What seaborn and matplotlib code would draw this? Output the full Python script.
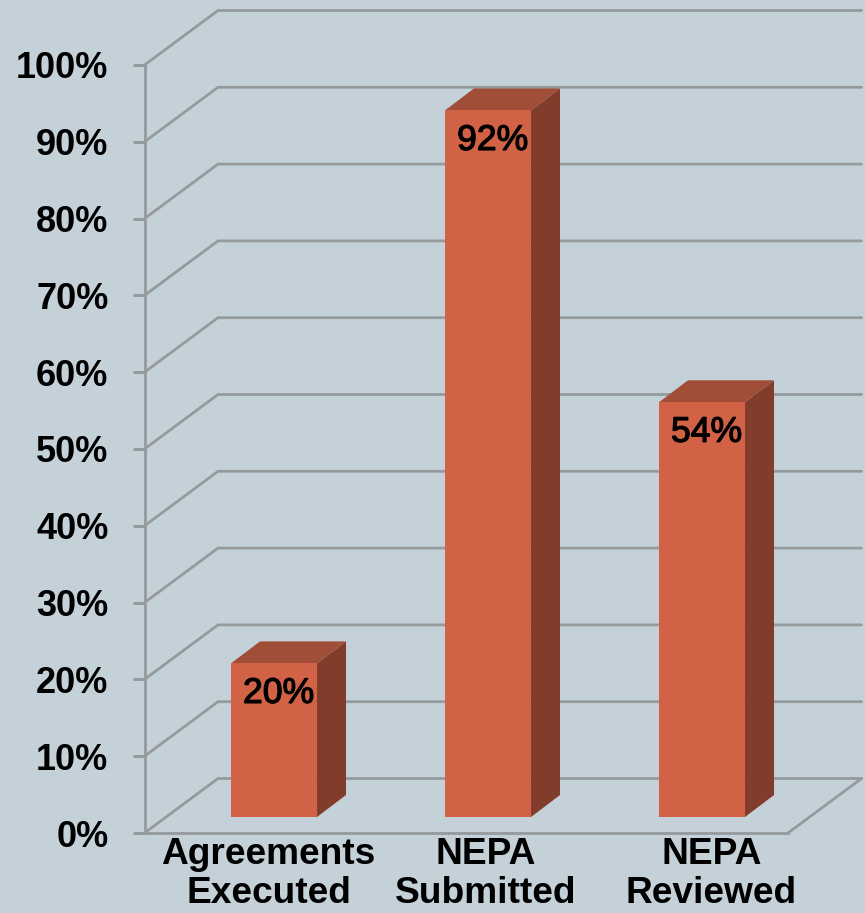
import matplotlib
matplotlib.use("Agg")
import matplotlib.pyplot as plt
import matplotlib.patheffects as pe
from matplotlib.patches import Polygon
import pandas as pd
import seaborn as sns

# ---- data ----
categories = ["Agreements\nExecuted", "NEPA\nSubmitted", "NEPA\nReviewed"]
values = [20, 92, 54]
y_ticks = [0, 10, 20, 30, 40, 50, 60, 70, 80, 90, 100]
y_tick_labels = [f"{v}%" for v in y_ticks]

# ---- style ----
BG = "#C5D1D8"
FRONT = "#D26246"
TOP = "#A04E37"
SIDE = "#823C2C"
GRID = "#959A9D"
W, H = 865, 913

sns.set_theme(style="white")
plt.rcParams["font.family"] = ["Liberation Sans", "DejaVu Sans"]

fig = plt.figure(figsize=(W / 100, H / 100), dpi=100, facecolor=BG)


def px_axes(left, right, top, bottom):
    return fig.add_axes([left / W, 1 - bottom / H, (right - left) / W, (bottom - top) / H])


# ---- wall axes: percent scale and floor outline ----
ax = px_axes(144.5, 788, 65, 833)
ax.set_facecolor("none")
ax.set_xlim(-0.5, 2.5)
ax.set_ylim(0, 100)
for s in ("top", "right"):
    ax.spines[s].set_visible(False)
for s in ("left", "bottom"):
    ax.spines[s].set_color(GRID)
    ax.spines[s].set_linewidth(2.0)
ax.set_yticks(y_ticks)
ax.set_yticklabels(y_tick_labels, fontsize=26, fontweight="bold", color="black")
ax.tick_params(axis="y", length=8.5, width=2.2, color=GRID, pad=17.5, left=True)

# category labels: centred on the printed positions
label_px = [268.5, 485.5, 711.5]
span = 788 - 144.5
ax.set_xticks([(p - 144.5) / span * 3 - 0.5 for p in label_px])
ax.set_xticklabels(categories, fontsize=26.7, fontweight="bold", color="black", linespacing=1.16)
ax.tick_params(axis="x", length=0, pad=3.0)

# receding gridlines, built on the y scale of the axes
DEPTH_X, DEPTH_Y = 73.5, 54.5
xform = ax.get_yaxis_transform()
fig.canvas.draw()
for v in y_ticks:
    p0 = xform.transform((0, v))
    p1 = p0 + (DEPTH_X, DEPTH_Y)
    p2 = xform.transform((1, v)) + (DEPTH_X, DEPTH_Y)
    ax.plot([p0[0], p1[0], p2[0]], [p0[1], p1[1], p2[1]], transform=None,
            color=GRID, lw=2.0, solid_joinstyle="miter", clip_on=False)
# right edge of the floor
p_end = xform.transform((1, 0))
ax.plot([p_end[0], p_end[0] + DEPTH_X], [p_end[1], p_end[1] + DEPTH_Y], transform=None,
        color=GRID, lw=2.0, clip_on=False)

# ---- bar axes: the bars stand in a plane midway into the floor ----
bx = px_axes(167, 809, 49, 817)
bx.set_facecolor("none")
df = pd.DataFrame({"category": categories, "value": values})
sns.barplot(data=df, x="category", y="value", color=FRONT, saturation=1, width=0.402,
            ax=bx, linewidth=0)
bx.set_xlim(-0.5, 2.5)
bx.set_ylim(0, 100)
bx.axis("off")

BAR_DX = 29 / 214  # category units
BAR_DY = 22 / 7.68  # percent units
for patch, v in zip(bx.patches, values):
    x0 = patch.get_x()
    x1 = x0 + patch.get_width()
    patch.set_zorder(3)
    bx.add_patch(Polygon([(x1, 0), (x1 + BAR_DX, BAR_DY), (x1 + BAR_DX, v + BAR_DY), (x1, v)],
                         closed=True, fc=SIDE, ec="none", zorder=2, clip_on=False))
    bx.add_patch(Polygon([(x0, v), (x0 + BAR_DX, v + BAR_DY), (x1 + BAR_DX, v + BAR_DY), (x1, v)],
                         closed=True, fc=TOP, ec="none", zorder=2, clip_on=False))
    bx.annotate(f"{v}%", xy=(x0 + patch.get_width() / 2, v), xytext=(4.5, -30),
                textcoords="offset pixels", ha="center", va="center",
                fontsize=25.6, color="black", zorder=5, annotation_clip=False,
                path_effects=[pe.withStroke(linewidth=0.9, foreground="black")])

fig.savefig("out.png", dpi=100, facecolor=BG)
